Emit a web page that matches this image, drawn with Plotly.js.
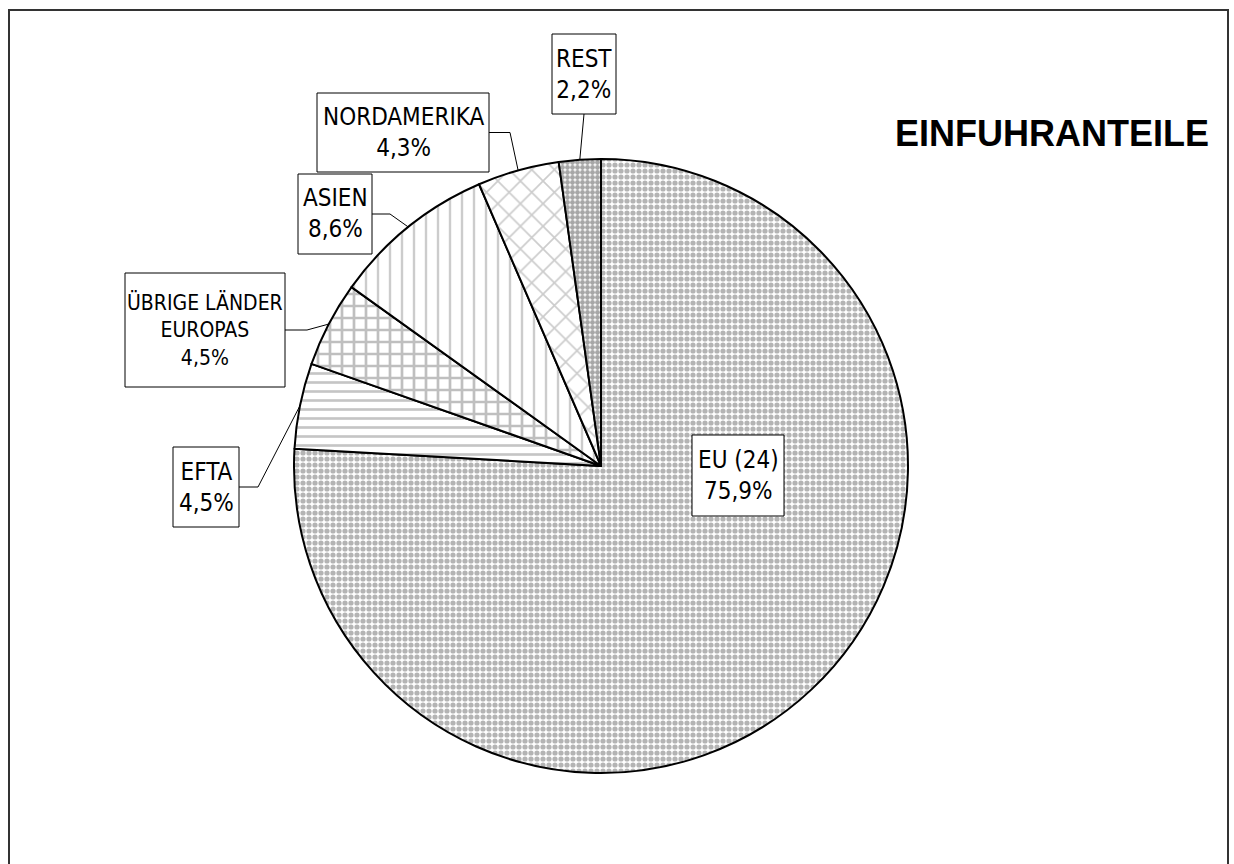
<!DOCTYPE html>
<html>
<head>
<meta charset="utf-8">
<script src="https://cdn.plot.ly/plotly-3.0.1.min.js"></script>
<style>html,body{margin:0;padding:0;background:#fff}#chart{width:1234px;height:864px}</style>
</head>
<body>
<div id="chart"></div>
<script>
// ---- data ----
const categories = ["EU (24)", "EFTA", "ÜBRIGE LÄNDER<br>EUROPAS", "ASIEN", "NORDAMERIKA", "REST"];
const shares = [75.9, 4.5, 4.5, 8.6, 4.3, 2.2];
const shareLabels = ["75,9%", "4,5%", "4,5%", "8,6%", "4,3%", "2,2%"];
const chartTitle = "EINFUHRANTEILE";

// ---- styling / layout ----
const W = 1234, H = 864;
const pieBox = {x0: 294, x1: 908, y0: 159, y1: 773};
const cx = (pieBox.x0 + pieBox.x1) / 2, cy = (pieBox.y0 + pieBox.y1) / 2, R = (pieBox.y1 - pieBox.y0) / 2;
const px = x => x / W, py = y => 1 - y / H;

const patShape = [".", "-", "+", "|", "x", "."];
const patFg = ["#6a6a6a", "#8c8c8c", "#808080", "#999999", "#999999", "#505050"];
const patSize = [6, 9, 12, 12, 16, 5];
const patSolid = [0.6, 0.3, 0.4, 0.2, 0.2, 0.75];

// label boxes (x0,y0,x1,y1 pixels), font size and which side the leader leaves from
const boxes = [
  {b: [692, 435, 784, 516], side: null, fs: 24},
  {b: [173, 447, 239, 527], side: "right", elbow: 19, fs: 24},
  {b: [125, 273, 285, 387], side: "right", elbow: 22, fs: 21},
  {b: [298, 174, 372, 254], side: "right", elbow: 18, fs: 24},
  {b: [317, 93, 489, 172], side: "right", elbow: 21, fs: 24},
  {b: [552, 34, 616, 114], side: "bottom", elbow: 0, fs: 24}
];

const fontFam = "Liberation Sans Narrow, DejaVu Sans Condensed, Arial Narrow, Liberation Sans, sans-serif";

const total = shares.reduce((a, b) => a + b, 0);
const annotations = [];
const shapes = [];
let cum = 0;
shares.forEach((v, i) => {
  const mid = (cum + v / 2) / total * 2 * Math.PI;
  cum += v;
  const ex = cx + R * Math.sin(mid), ey = cy - R * Math.cos(mid);
  const bx = boxes[i].b;
  shapes.push({type: "rect", xref: "paper", yref: "paper", layer: "above",
    x0: px(bx[0]), x1: px(bx[2]), y0: py(bx[3]), y1: py(bx[1]),
    fillcolor: "#fff", line: {color: "#000", width: 1}});
  annotations.push({
    xref: "paper", yref: "paper",
    x: px((bx[0] + bx[2]) / 2), y: py((bx[1] + bx[3]) / 2),
    xanchor: "center", yanchor: "middle",
    text: categories[i] + "<br>" + shareLabels[i],
    showarrow: false, align: "center",
    font: {family: fontFam, size: boxes[i].fs, color: "#000"}
  });
  if (boxes[i].side === "right") {
    const sy = (bx[1] + bx[3]) / 2;
    const kx = bx[2] + boxes[i].elbow;
    shapes.push({type: "path", xref: "paper", yref: "paper",
      path: `M ${px(bx[2])} ${py(sy)} L ${px(kx)} ${py(sy)} L ${px(ex)} ${py(ey)}`,
      line: {color: "#000", width: 1}});
  } else if (boxes[i].side === "bottom") {
    const sx = (bx[0] + bx[2]) / 2;
    shapes.push({type: "path", xref: "paper", yref: "paper",
      path: `M ${px(sx)} ${py(bx[3])} L ${px(ex)} ${py(ey)}`,
      line: {color: "#000", width: 1}});
  }
});

annotations.push({
  xref: "paper", yref: "paper", x: px(1052), y: py(134), xanchor: "center", yanchor: "middle",
  text: "<b>" + chartTitle + "</b>", showarrow: false,
  font: {family: "Liberation Sans, Arial, sans-serif", size: 36, color: "#000"}
});

// outer frame
shapes.push({type: "path", xref: "paper", yref: "paper",
  path: `M ${px(9)} ${py(H + 5)} L ${px(9)} ${py(10)} L ${px(1228)} ${py(10)} L ${px(1228)} ${py(H + 5)}`,
  line: {color: "#333", width: 2}});

const trace = {
  type: "pie",
  labels: categories,
  values: shares,
  sort: false,
  direction: "clockwise",
  rotation: 0,
  textinfo: "none",
  hoverinfo: "label+percent",
  showlegend: false,
  domain: {x: [px(pieBox.x0), px(pieBox.x1)], y: [py(pieBox.y1), py(pieBox.y0)]},
  marker: {
    colors: ["#ffffff", "#ffffff", "#ffffff", "#ffffff", "#ffffff", "#ffffff"],
    line: {color: "#000", width: 2},
    pattern: {shape: patShape, fgcolor: patFg, bgcolor: "#ffffff", size: patSize, solidity: patSolid, fillmode: "overlay"}
  }
};

Plotly.newPlot("chart", [trace], {
  width: W, height: H,
  margin: {l: 0, r: 0, t: 0, b: 0},
  paper_bgcolor: "#fff",
  showlegend: false,
  annotations: annotations,
  shapes: shapes
}, {displayModeBar: false, staticPlot: true});
</script>
</body>
</html>
